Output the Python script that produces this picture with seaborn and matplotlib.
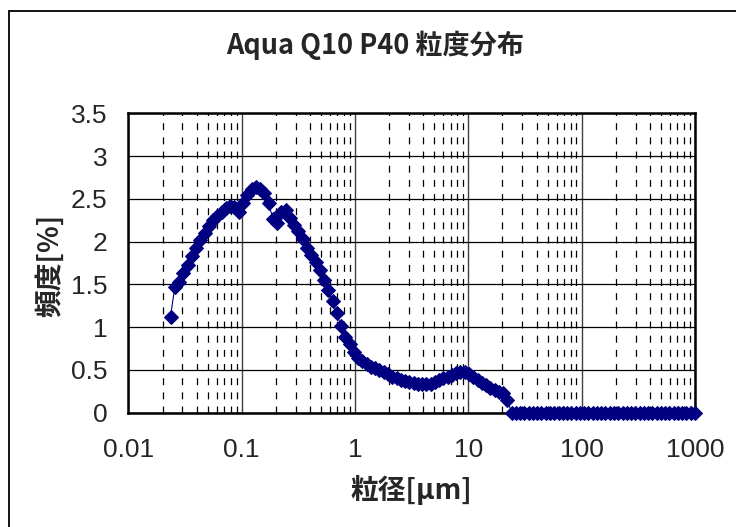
import numpy as np
import pandas as pd
import matplotlib
matplotlib.use("Agg")
import matplotlib.pyplot as plt
import seaborn as sns
from matplotlib.patches import Rectangle

# ---------------- data ----------------
sizes_um = [
    0.02353, 0.02566, 0.02798, 0.03052, 0.03328, 0.03629, 0.03958, 0.04316,
    0.04706, 0.05132, 0.05597, 0.06104, 0.06657, 0.07258, 0.07915, 0.08632,
    0.09413, 0.1026, 0.1119, 0.1221, 0.1331, 0.1452, 0.1583, 0.1726,
    0.1883, 0.2053, 0.2239, 0.2441, 0.2663, 0.2903, 0.3166, 0.3453,
    0.3765, 0.4106, 0.4478, 0.4883, 0.5325, 0.5807, 0.6332, 0.6905,
    0.7531, 0.8212, 0.8955, 0.9766, 1.065, 1.161, 1.266, 1.381,
    1.506, 1.642, 1.791, 1.953, 2.130, 2.323, 2.533, 2.762,
    3.012, 3.285, 3.582, 3.906, 4.260, 4.645, 5.065, 5.524,
    6.024, 6.570, 7.164, 7.813, 8.520, 9.291, 10.13, 11.05,
    12.05, 13.14, 14.33, 15.63, 17.04, 18.58, 20.26, 22.10,
    24.10, 26.28, 28.66, 31.25, 34.08, 37.16, 40.53, 44.19,
    48.19, 52.56, 57.31, 62.5, 68.16, 74.33, 81.05, 88.39,
    96.39, 105.1, 114.6, 125.0, 136.3, 148.7, 162.1, 176.8,
    192.8, 210.2, 229.3, 250.0, 272.6, 297.3, 324.2, 353.6,
    385.6, 420.4, 458.5, 500.0, 545.3, 594.6, 648.4, 707.1,
    771.1, 840.9, 917.0, 1000.0,
]
freq_pct = [
    1.12, 1.47, 1.53, 1.63, 1.73, 1.83, 1.93, 2.02,
    2.10, 2.18, 2.25, 2.30, 2.35, 2.39, 2.42, 2.40,
    2.35, 2.45, 2.55, 2.61, 2.64, 2.62, 2.57, 2.45,
    2.27, 2.22, 2.35, 2.37, 2.28, 2.20, 2.12, 2.03,
    1.93, 1.84, 1.76, 1.67, 1.55, 1.44, 1.30, 1.16,
    1.01, 0.89, 0.80, 0.71, 0.64, 0.60, 0.57, 0.54,
    0.52, 0.50, 0.47, 0.45, 0.42, 0.40, 0.38, 0.37,
    0.36, 0.35, 0.34, 0.33, 0.33, 0.34, 0.36, 0.38,
    0.40, 0.42, 0.44, 0.46, 0.47, 0.47, 0.45, 0.42,
    0.38, 0.35, 0.32, 0.29, 0.27, 0.24, 0.23, 0.15,
    0, 0, 0, 0, 0, 0, 0, 0,
    0, 0, 0, 0, 0, 0, 0, 0,
    0, 0, 0, 0, 0, 0, 0, 0,
    0, 0, 0, 0, 0, 0, 0, 0,
    0, 0, 0, 0, 0, 0, 0, 0,
    0, 0, 0, 0,
]
x_ticks = [0.01, 0.1, 1, 10, 100, 1000]
x_tick_labels = ["0.01", "0.1", "1", "10", "100", "1000"]
y_ticks = [0, 0.5, 1, 1.5, 2, 2.5, 3, 3.5]
y_tick_labels = ["0", "0.5", "1", "1.5", "2", "2.5", "3", "3.5"]
title_text = "Aqua Q10 P40 粒度分布"
x_label = "粒径[μm]"
y_label = "頻度[%]"

# ---------------- style ----------------
sns.set_style("white")
plt.rcParams["font.family"] = ["Noto Sans CJK JP", "DejaVu Sans"]
plt.rcParams["lines.scale_dashes"] = False

W, H = 736, 527
fig = plt.figure(figsize=(W / 100, H / 100), dpi=100)
fig.patch.set_facecolor("white")

# outer chart border (extends beyond right/bottom edge)
fig.patches.append(Rectangle((9 / W, -0.05), 1.2, 1 - 11 / H + 0.05,
                             transform=fig.transFigure, fill=False,
                             edgecolor="black", linewidth=1.3, zorder=0))

ax_left, ax_right = 128.4 / W, 695.0 / W
ax_top, ax_bottom = 1 - 113.3 / H, 1 - 412.7 / H
ax = fig.add_axes([ax_left, ax_bottom, ax_right - ax_left, ax_top - ax_bottom])

df = pd.DataFrame({"size": sizes_um, "freq": freq_pct})
sns.lineplot(data=df, x="size", y="freq", ax=ax, color="#000080",
             linewidth=0.8, marker="D", markersize=6.8,
             markeredgecolor="#000080", markerfacecolor="#000080",
             sort=False, estimator=None, zorder=5, clip_on=False)

ax.set_xscale("log")
ax.set_xlim(0.01, 1000)
ax.set_ylim(0, 3.5)
ax.set_xticks(x_ticks)
ax.set_xticklabels(x_tick_labels)
ax.set_yticks(y_ticks)
ax.set_yticklabels(y_tick_labels)
ax.xaxis.set_minor_locator(matplotlib.ticker.LogLocator(base=10, subs=np.arange(2, 10), numticks=20))
ax.xaxis.set_minor_formatter(matplotlib.ticker.NullFormatter())

ax.set_axisbelow(True)
ax.grid(which="major", axis="y", color="black", linewidth=0.9, linestyle="-")
ax.grid(which="major", axis="x", color="#404040", linewidth=1.0, linestyle="-")
ax.grid(which="minor", axis="x", color="black", linewidth=0.9, linestyle=(0, (5.0, 5.2)))

tick_font = ["Liberation Sans Narrow", "Liberation Sans", "DejaVu Sans"]
ax.tick_params(axis="x", which="major", length=0, pad=18, labelsize=19)
ax.tick_params(axis="y", which="major", length=0, pad=15, labelsize=19)
ax.tick_params(axis="x", which="minor", direction="in", length=4, width=0.8, color="black")
for lab in ax.get_xticklabels() + ax.get_yticklabels():
    lab.set_family(tick_font)

for sp in ax.spines.values():
    sp.set_color("black")
    sp.set_linewidth(1.8)

ax.set_xlabel(x_label, fontsize=20, fontweight="bold", va="center")
ax.xaxis.set_label_coords(0.5, -(490 - 412.7) / (412.7 - 113.3))
ax.set_ylabel(y_label, fontsize=20, fontweight="bold", va="center")
ax.yaxis.set_label_coords((50 - 128.4) / (695.0 - 128.4), 0.5 - 2 / (412.7 - 113.3))

fig.text(375 / W, 1 - 45 / H, title_text, ha="center", va="center",
         fontsize=19.5, fontweight="bold")

fig.savefig("out.png", dpi=100, facecolor="white")
